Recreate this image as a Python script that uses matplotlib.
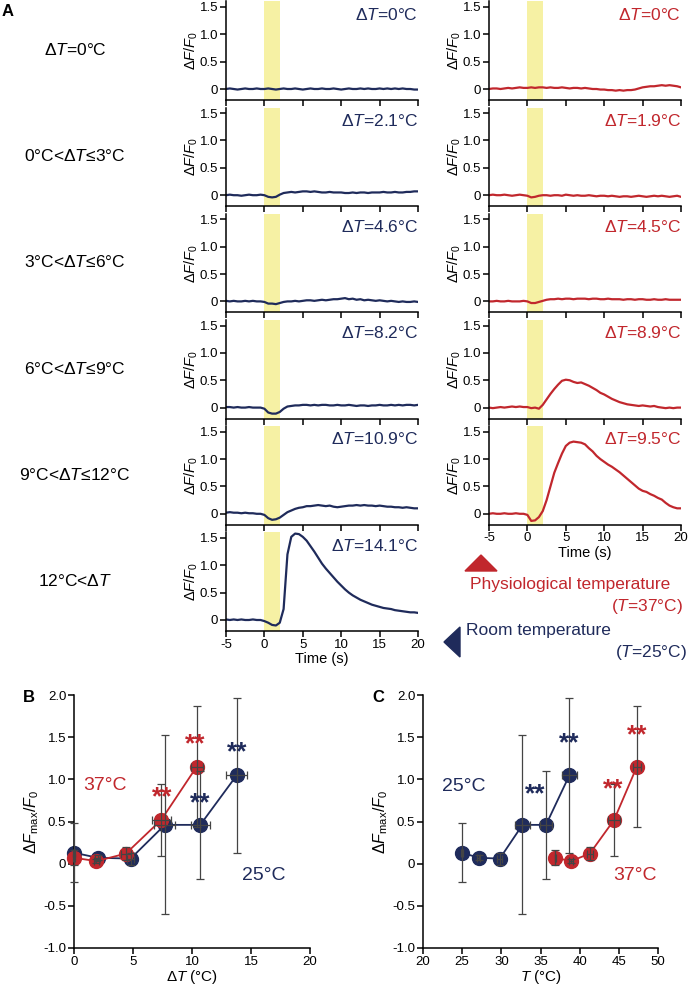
import matplotlib
matplotlib.use("Agg")
import matplotlib.pyplot as plt
import numpy as np
from matplotlib.patches import Polygon

plt.rcParams["font.family"] = ["Liberation Sans", "DejaVu Sans"]
plt.rcParams["mathtext.fontset"] = "custom"
plt.rcParams["mathtext.rm"] = "Liberation Sans"
plt.rcParams["mathtext.it"] = "Liberation Sans:italic"
plt.rcParams["mathtext.bf"] = "Liberation Sans:bold"
plt.rcParams["axes.unicode_minus"] = False

NAVY = "#1f2b5b"
RED = "#c1272d"
YELLOW = "#f6f1a4"

#
# Panel A data: dF/F0 traces sampled every 0.5 s from -5 s to 20 s
#
time = np.arange(-5, 20.01, 0.5)
stim_on, stim_off = 0, 2

row_labels = ["Δ$T$=0°C", "0°C<Δ$T$≤3°C", "3°C<Δ$T$≤6°C",
              "6°C<Δ$T$≤9°C", "9°C<Δ$T$≤12°C", "12°C<Δ$T$"]

room_dT_labels = ["0", "2.1", "4.6", "8.2", "10.9", "14.1"]
room_traces = [
    [0.00, 0.01, 0.00, -0.01, 0.00, 0.01, 0.00, 0.00, 0.01, 0.00,
     0.00, 0.01, 0.00, -0.01, 0.00, 0.01, 0.00, 0.00, 0.01, 0.00,
     -0.01, 0.00, 0.01, 0.00, 0.00, 0.01, 0.00, 0.00, 0.01, 0.00,
     -0.01, 0.00, 0.01, 0.00, 0.00, 0.01, 0.00, 0.01, 0.00, 0.00,
     0.01, 0.00, 0.01, 0.00, 0.01, 0.00, 0.01, 0.00, 0.00, -0.01, -0.01],
    [0.00, 0.01, 0.00, 0.00, -0.01, 0.00, 0.01, 0.00, 0.00, 0.01,
     0.00, -0.03, -0.04, -0.03, 0.01, 0.04, 0.05, 0.06, 0.05, 0.06,
     0.07, 0.07, 0.06, 0.07, 0.06, 0.05, 0.05, 0.06, 0.05, 0.05,
     0.05, 0.04, 0.04, 0.05, 0.04, 0.05, 0.05, 0.04, 0.05, 0.05,
     0.05, 0.06, 0.05, 0.05, 0.06, 0.05, 0.05, 0.06, 0.06, 0.07, 0.07],
    [0.01, 0.00, 0.01, 0.00, 0.00, 0.01, 0.00, 0.01, 0.00, 0.00,
     -0.01, -0.04, -0.04, -0.05, -0.03, -0.01, 0.00, 0.00, 0.01, 0.00,
     0.01, 0.02, 0.02, 0.01, 0.02, 0.03, 0.02, 0.03, 0.04, 0.04,
     0.05, 0.06, 0.04, 0.05, 0.03, 0.04, 0.02, 0.03, 0.02, 0.01,
     0.02, 0.01, 0.00, 0.01, 0.00, -0.01, 0.00, -0.01, -0.01, 0.00, -0.01],
    [0.01, 0.01, 0.00, 0.01, 0.00, 0.00, 0.01, 0.00, 0.00, 0.00,
     -0.02, -0.09, -0.11, -0.11, -0.08, -0.02, 0.02, 0.03, 0.04, 0.04,
     0.05, 0.05, 0.04, 0.05, 0.04, 0.05, 0.05, 0.04, 0.04, 0.05,
     0.04, 0.04, 0.05, 0.04, 0.03, 0.04, 0.04, 0.03, 0.04, 0.04,
     0.05, 0.04, 0.04, 0.05, 0.04, 0.05, 0.04, 0.05, 0.05, 0.04, 0.05],
    [0.02, 0.03, 0.02, 0.02, 0.01, 0.02, 0.01, 0.01, 0.00, 0.00,
     -0.02, -0.08, -0.11, -0.10, -0.07, -0.02, 0.03, 0.06, 0.09, 0.11,
     0.12, 0.14, 0.14, 0.15, 0.16, 0.15, 0.14, 0.15, 0.13, 0.12,
     0.13, 0.14, 0.15, 0.15, 0.16, 0.15, 0.16, 0.15, 0.15, 0.14,
     0.15, 0.14, 0.13, 0.13, 0.12, 0.12, 0.11, 0.12, 0.11, 0.10, 0.10],
    [0.01, 0.00, 0.01, 0.00, 0.01, 0.00, 0.00, 0.01, 0.00, 0.00,
     -0.02, -0.05, -0.09, -0.10, -0.05, 0.20, 1.20, 1.52, 1.58, 1.57,
     1.52, 1.45, 1.35, 1.25, 1.14, 1.03, 0.94, 0.86, 0.78, 0.70,
     0.63, 0.56, 0.50, 0.45, 0.41, 0.37, 0.34, 0.31, 0.28, 0.26,
     0.24, 0.22, 0.21, 0.20, 0.18, 0.17, 0.16, 0.15, 0.14, 0.14, 0.13],
]

phys_dT_labels = ["0", "1.9", "4.5", "8.9", "9.5"]
phys_traces = [
    [0.00, 0.01, 0.01, 0.00, 0.01, 0.02, 0.01, 0.02, 0.03, 0.02,
     0.02, 0.03, 0.02, 0.03, 0.03, 0.02, 0.03, 0.02, 0.02, 0.03,
     0.02, 0.01, 0.02, 0.02, 0.01, 0.02, 0.01, 0.00, 0.00, -0.01,
     -0.01, -0.02, -0.02, -0.03, -0.02, -0.03, -0.02, -0.02, -0.01, 0.01,
     0.03, 0.04, 0.05, 0.05, 0.06, 0.07, 0.06, 0.07, 0.06, 0.05, 0.03],
    [0.00, 0.01, 0.00, 0.00, 0.01, 0.00, -0.01, 0.00, 0.01, 0.00,
     -0.01, -0.04, -0.03, -0.01, 0.00, 0.00, -0.01, 0.00, 0.00, -0.01,
     0.01, 0.00, -0.01, 0.00, -0.01, -0.01, 0.00, -0.01, -0.02, -0.01,
     -0.01, -0.02, -0.01, -0.02, -0.03, -0.02, -0.02, -0.03, -0.02, -0.01,
     -0.02, -0.03, -0.02, -0.01, -0.02, -0.01, -0.02, -0.03, -0.02, -0.01, -0.03],
    [0.00, 0.00, 0.01, 0.00, 0.00, 0.01, 0.00, 0.00, 0.00, 0.01,
     0.00, -0.03, -0.03, -0.01, 0.01, 0.03, 0.04, 0.04, 0.05, 0.04,
     0.05, 0.05, 0.04, 0.05, 0.05, 0.05, 0.04, 0.05, 0.05, 0.04,
     0.04, 0.05, 0.04, 0.04, 0.04, 0.03, 0.04, 0.04, 0.03, 0.04,
     0.04, 0.03, 0.03, 0.04, 0.03, 0.03, 0.04, 0.03, 0.03, 0.03, 0.03],
    [0.00, -0.01, 0.00, 0.01, 0.00, 0.01, 0.02, 0.01, 0.02, 0.01,
     0.01, -0.01, 0.00, -0.02, 0.05, 0.15, 0.25, 0.34, 0.42, 0.49,
     0.51, 0.50, 0.47, 0.45, 0.46, 0.43, 0.40, 0.36, 0.32, 0.27,
     0.24, 0.20, 0.16, 0.13, 0.10, 0.08, 0.06, 0.05, 0.04, 0.03,
     0.04, 0.03, 0.02, 0.03, 0.01, 0.00, -0.01, 0.00, -0.01, 0.00, 0.00],
    [0.00, 0.01, 0.00, 0.00, 0.01, 0.00, 0.00, 0.01, 0.00, 0.00,
     -0.02, -0.13, -0.12, -0.06, 0.05, 0.25, 0.50, 0.75, 0.93, 1.10,
     1.24, 1.30, 1.32, 1.31, 1.30, 1.27, 1.20, 1.14, 1.06, 1.00,
     0.95, 0.90, 0.86, 0.81, 0.76, 0.70, 0.64, 0.58, 0.52, 0.46,
     0.42, 0.40, 0.36, 0.33, 0.29, 0.26, 0.20, 0.15, 0.12, 0.10, 0.10],
]

#
# Panels B and C data: peak amplitude vs temperature
#
room_dT = [0.0, 2.0, 4.8, 7.7, 10.7, 13.8]
room_dT_err = [0.1, 0.2, 0.3, 0.9, 0.8, 0.9]
room_T = [25.0, 27.1, 29.8, 32.7, 35.7, 38.7]
room_amp = [0.13, 0.07, 0.06, 0.46, 0.46, 1.05]
room_amp_err = [0.35, 0.03, 0.07, 1.06, 0.64, 0.92]

phys_dT = [0.0, 1.9, 4.4, 7.4, 10.4]
phys_dT_err = [0.1, 0.2, 0.4, 0.8, 0.5]
phys_T = [36.9, 38.9, 41.3, 44.4, 47.3]
phys_amp = [0.07, 0.03, 0.12, 0.52, 1.15]
phys_amp_err = [0.09, 0.02, 0.08, 0.43, 0.72]

# significance marks: (x, y) positions of "**"
stars_B_room = [(10.7, 0.72), (13.8, 1.32)]
stars_B_phys = [(7.45, 0.79), (10.25, 1.42)]
stars_C_room = [(34.3, 0.82), (38.7, 1.43)]
stars_C_phys = [(44.3, 0.88), (47.3, 1.52)]

#
# Figure
#
W, H = 688, 985
fig = plt.figure(figsize=(W / 100, H / 100), dpi=100)


def px_axes(l, t, r, b):
    return fig.add_axes([l / W, 1 - b / H, (r - l) / W, (b - t) / H])


def style_axes(ax, fs=9.5):
    ax.spines["top"].set_visible(False)
    ax.spines["right"].set_visible(False)
    for s in ("left", "bottom"):
        ax.spines[s].set_linewidth(1.1)
    ax.tick_params(direction="out", length=4, width=1.1, labelsize=fs, pad=1.5)


unit = 54.7  # px per dF/F0 unit
row_step = 106.2


def trace_axes(col_left, i, trace, color, dT_text, bottom):
    y0 = 89 + row_step * i
    ax = px_axes(col_left, y0 - 1.6 * unit, col_left + 192, y0 + 0.2 * unit)
    ax.axvspan(stim_on, stim_off, color=YELLOW, lw=0, zorder=0)
    ax.plot(time, trace, color=color, lw=1.6, zorder=2)
    ax.set_xlim(-5, 20)
    ax.set_ylim(-0.2, 1.6)
    ax.set_xticks([-5, 0, 5, 10, 15, 20])
    ax.set_yticks([0, 0.5, 1.0, 1.5])
    ax.set_yticklabels(["0", "0.5", "1.0", "1.5"])
    style_axes(ax)
    ax.set_ylabel("Δ$F/F_0$", fontsize=10.5, labelpad=0)
    if bottom:
        ax.set_xlabel("Time (s)", fontsize=10.5, labelpad=1)
    else:
        ax.tick_params(labelbottom=False)
    ax.text(20, 1.36, "Δ$T$=" + dT_text + "°C", color=color, fontsize=12.5,
            ha="right", va="center")
    return ax


for i, (tr, lab) in enumerate(zip(room_traces, room_dT_labels)):
    trace_axes(226, i, tr, NAVY, lab, i == len(room_traces) - 1)
    fig.text(75 / W, 1 - (89 + row_step * i - 39) / H, row_labels[i],
             fontsize=12.5, ha="center", va="center")

for i, (tr, lab) in enumerate(zip(phys_traces, phys_dT_labels)):
    trace_axes(489, i, tr, RED, lab, i == len(phys_traces) - 1)

fig.text(8 / W, 1 - 12 / H, "A", fontsize=12, fontweight="bold", ha="center", va="center")

# legend-like markers for temperature conditions
fig.add_artist(Polygon([[465 / W, 1 - 571 / H], [497 / W, 1 - 571 / H], [481 / W, 1 - 555 / H]],
                       closed=True, color=RED, transform=fig.transFigure))
fig.text(470 / W, 1 - 585 / H, "Physiological temperature", color=RED, fontsize=12.5,
         ha="left", va="center")
fig.text(683 / W, 1 - 607 / H, "($T$=37°C)", color=RED, fontsize=12.5, ha="right", va="center")
fig.add_artist(Polygon([[444 / W, 1 - 642 / H], [460 / W, 1 - 627 / H], [460 / W, 1 - 657 / H]],
                       closed=True, color=NAVY, transform=fig.transFigure))
fig.text(466 / W, 1 - 631 / H, "Room temperature", color=NAVY, fontsize=12.5,
         ha="left", va="center")
fig.text(687 / W, 1 - 652 / H, "($T$=25°C)", color=NAVY, fontsize=12.5, ha="right", va="center")


def amp_panel(ax, room_x, phys_x, xerr_room, xerr_phys, stars_room, stars_phys):
    for x, y, xe, ye, c in ((room_x, room_amp, xerr_room, room_amp_err, NAVY),
                            (phys_x, phys_amp, xerr_phys, phys_amp_err, RED)):
        ax.plot(x, y, color=c, lw=1.3, marker="o", ms=10, zorder=2, clip_on=False)
        eb = ax.errorbar(x, y, yerr=ye, xerr=xe, fmt="none", ecolor="#444444",
                         elinewidth=0.9, capsize=3, capthick=0.9, zorder=3)
        for art in eb.lines[1] + eb.lines[2]:
            art.set_clip_on(False)
    for (x, y) in stars_room:
        ax.text(x, y, "**", color=NAVY, fontsize=19, fontweight="bold", ha="center", va="center")
    for (x, y) in stars_phys:
        ax.text(x, y, "**", color=RED, fontsize=19, fontweight="bold", ha="center", va="center")
    ax.set_ylim(-1.0, 2.0)
    ax.set_yticks([-1.0, -0.5, 0, 0.5, 1.0, 1.5, 2.0])
    ax.set_yticklabels(["-1.0", "-0.5", "0", "0.5", "1.0", "1.5", "2.0"])
    style_axes(ax)
    ax.set_ylabel("Δ$F_{\\rm max}/F_0$", fontsize=11.5, labelpad=2)


axB = px_axes(74, 695, 310, 948)
amp_panel(axB, room_dT, phys_dT, room_dT_err, phys_dT_err, stars_B_room, stars_B_phys)
axB.set_xlim(0, 20)
axB.set_xticks([0, 5, 10, 15, 20])
axB.set_xlabel("Δ$T$ (°C)", fontsize=11, labelpad=0)
axB.text(2.6, 0.93, "37°C", color=RED, fontsize=14, ha="center", va="center")
axB.text(16.1, -0.14, "25°C", color=NAVY, fontsize=14, ha="center", va="center")
fig.text(29 / W, 1 - 697 / H, "B", fontsize=12, fontweight="bold", ha="center", va="center")

axC = px_axes(423, 695, 658, 948)
amp_panel(axC, room_T, phys_T, room_dT_err, phys_dT_err, stars_C_room, stars_C_phys)
axC.set_xlim(20, 50)
axC.set_xticks([20, 25, 30, 35, 40, 45, 50])
axC.set_xlabel("$T$ (°C)", fontsize=11, labelpad=0)
axC.text(25.2, 0.92, "25°C", color=NAVY, fontsize=14, ha="center", va="center")
axC.text(47.1, -0.14, "37°C", color=RED, fontsize=14, ha="center", va="center")
fig.text(378 / W, 1 - 697 / H, "C", fontsize=12, fontweight="bold", ha="center", va="center")

plt.savefig("out.png", dpi=100)
